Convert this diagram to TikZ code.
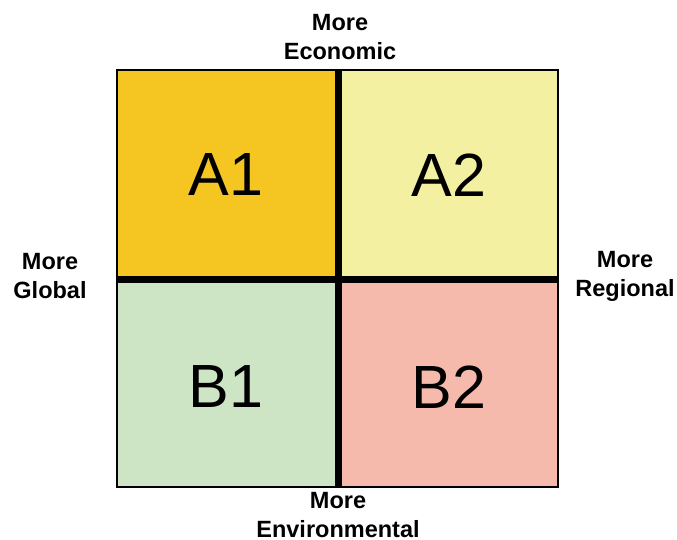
\documentclass[tikz,border=0pt]{standalone}
\usepackage{fontspec}
\setmainfont{Liberation Sans}
\definecolor{cA1}{HTML}{F5C622}
\definecolor{cA2}{HTML}{F3F1A1}
\definecolor{cB1}{HTML}{CEE5C5}
\definecolor{cB2}{HTML}{F6BAAD}
\begin{document}
\begin{tikzpicture}[x=1pt,y=-1pt,
  qtext/.style={inner sep=0pt,font=\fontsize{61}{61}\selectfont},
  lbl/.style={align=center,inner sep=0pt,font=\fontsize{23.5}{29}\selectfont\bfseries},
  qbox/.style={draw=black,line width=1.2pt},
  bar/.style={line width=7pt,black}]
\useasboundingbox (0,0) rectangle (677,539);
\path[qbox,fill=cA1] (117,70) rectangle (338,279);
\path[qbox,fill=cA2] (338,70) rectangle (558,279);
\path[qbox,fill=cB1] (117,279) rectangle (338,487);
\path[qbox,fill=cB2] (338,279) rectangle (558,487);
\node[qtext] (a1) at (226,175) {A1};
\node[qtext] (a2) at (449,175) {A2};
\node[qtext] (b1) at (226,387) {B1};
\node[qtext] (b2) at (449,387) {B2};
\coordinate (vt) at (338,70);
\coordinate (vb) at (338,487);
\coordinate (hl) at (117,279);
\coordinate (hr) at (558,279);
\draw[bar] (vt) -- (vb);
\draw[bar] (hl) -- (hr);
\node[lbl] (top) at (340,37) {More\\Economic};
\node[lbl] (bot) at (338,515) {More\\Environmental};
\node[lbl] (lft) at (50,276) {More\\Global};
\node[lbl] (rgt) at (625,276) {More\\Regional};
\end{tikzpicture}
\end{document}
